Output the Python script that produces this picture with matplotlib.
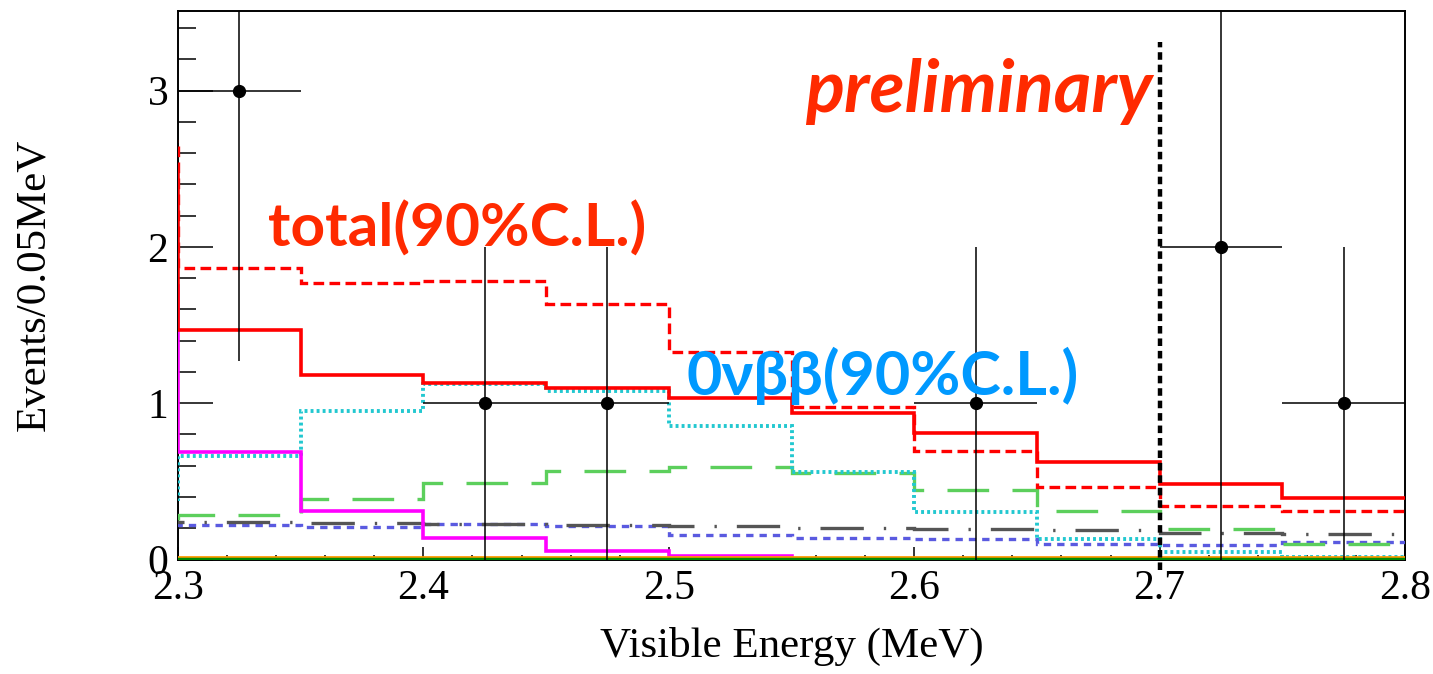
import numpy as np
import matplotlib
matplotlib.use("Agg")
import matplotlib.pyplot as plt
from matplotlib.ticker import MultipleLocator

# ---------------- data ----------------
bin_edges = [2.25, 2.30, 2.35, 2.40, 2.45, 2.50, 2.55, 2.60, 2.65, 2.70, 2.75, 2.80]

# value in the bin just below 2.3 (only its step at 2.3 is visible), then 10 bins
total_best   = [2.52, 1.47, 1.18, 1.128, 1.096, 1.032, 0.936, 0.808, 0.623, 0.480, 0.395]
total_90cl   = [2.68, 1.864, 1.768, 1.779, 1.636, 1.326, 0.974, 0.693, 0.463, 0.345, 0.313]
magenta_bkg  = [1.75, 0.685, 0.313, 0.136, 0.053, 0.021, 0.0, 0.0, 0.0, 0.0, 0.0]
signal_0vbb  = [0.39, 0.665, 0.953, 1.120, 1.081, 0.857, 0.559, 0.303, 0.132, 0.047, 0.015]
green_bkg    = [0.21, 0.286, 0.384, 0.488, 0.565, 0.595, 0.552, 0.446, 0.313, 0.196, 0.100]
gray_bkg     = [0.239, 0.239, 0.232, 0.228, 0.222, 0.213, 0.203, 0.194, 0.190, 0.171, 0.160]
blue_bkg     = [0.218, 0.218, 0.207, 0.228, 0.213, 0.159, 0.138, 0.132, 0.100, 0.090, 0.110]
orange_bkg   = [0.015] * 11
darkgreen_bkg = [0.0] * 11

data_x = [2.325, 2.425, 2.475, 2.625, 2.725, 2.775]
data_y = [3, 1, 1, 1, 2, 1]
err_low = [1.73, 1, 1, 1, 2, 1]
err_high = [1.73, 1, 1, 1, 2, 1]
x_half_width = 0.025

endpoint_energy = 2.7
endpoint_top = 3.31

xticks = [2.3, 2.4, 2.5, 2.6, 2.7, 2.8]
yticks = [0, 1, 2, 3]

# ---------------- figure ----------------
fig = plt.figure(figsize=(14.33, 6.74), dpi=100)
ax = fig.add_axes([178 / 1433, 1 - 559.5 / 674, (1405 - 178) / 1433, (559.5 - 11) / 674])

serif = "Liberation Serif"

def stairs(vals, color, lw, dashes=None, z=3):
    art = ax.stairs(vals, bin_edges, baseline=None, color=color, linewidth=lw, zorder=z)
    if dashes is not None:
        art.set_linestyle((0, dashes))
    return art

stairs(darkgreen_bkg, "#008a00", 3.2, z=6)
stairs(orange_bkg, "#ff9900", 2.0, z=5)
stairs(blue_bkg, "#5a5ae0", 2.4, dashes=(2.2, 1.8))
stairs(gray_bkg, "#555555", 2.4, dashes=(13, 6, 0.7, 6))
stairs(green_bkg, "#5ccf5c", 2.4, dashes=(12.5, 7))
stairs(signal_0vbb, "#22c8d0", 2.8, dashes=(0.75, 0.8))
stairs(magenta_bkg, "#ff00ff", 2.6)
stairs(total_90cl, "#ff0000", 2.4, dashes=(3.2, 1.6))
stairs(total_best, "#ff0000", 2.6)

ax.errorbar(data_x, data_y, yerr=[err_low, err_high], xerr=x_half_width,
            fmt="o", color="black", markersize=8.5, elinewidth=1.1,
            capsize=0, zorder=7)

ax.plot([endpoint_energy, endpoint_energy], [-0.07, endpoint_top], color="black",
        linewidth=3.2, linestyle=(0, (1.7, 1.1)), clip_on=False, zorder=8)

ax.set_xlim(2.3, 2.8)
ax.set_ylim(0, 3.51)

ax.xaxis.set_major_locator(MultipleLocator(0.1))
ax.xaxis.set_minor_locator(MultipleLocator(0.02))
ax.yaxis.set_major_locator(MultipleLocator(1))
ax.yaxis.set_minor_locator(MultipleLocator(0.2))
ax.set_xticks(xticks)
ax.set_yticks(yticks)
ax.set_xticklabels([f"{t:.1f}" for t in xticks], fontfamily=serif, fontsize=30)
ax.set_yticklabels([str(t) for t in yticks], fontfamily=serif, fontsize=30)

ax.tick_params(axis="x", which="major", direction="in", length=9.4, width=1.1, pad=7,
               top=False, bottom=True)
ax.tick_params(axis="x", which="minor", direction="in", length=3.3, width=1.1,
               top=False, bottom=True)
ax.tick_params(axis="y", which="major", direction="in", length=25, width=1.1, pad=7,
               right=False, left=True)
ax.tick_params(axis="y", which="minor", direction="in", length=13, width=1.1,
               right=False, left=True)

for s in ax.spines.values():
    s.set_linewidth(1.4)

ax.set_xlabel("Visible Energy (MeV)", fontfamily=serif, fontsize=31, labelpad=14)
ax.set_ylabel("Events/0.05MeV", fontfamily=serif, fontsize=31, labelpad=68)

ann = ["Lato", "Open Sans", "DejaVu Sans"]
fig.text(268 / 1433, 1 - 247 / 674, "total(90%C.L.)", color="#ff2a00",
         fontsize=43.5, fontweight="bold", family=ann, ha="left", va="baseline")
fig.text(687 / 1433, 1 - 395 / 674, "0νββ(90%C.L.)", color="#0099ff",
         fontsize=44, fontweight="bold", family=ann, ha="left", va="baseline")
fig.text(805 / 1433, 1 - 112 / 674, "preliminary", color="#ff2a00",
         fontsize=52, fontweight="bold", fontstyle="italic", family=ann,
         ha="left", va="baseline")

fig.savefig("out.png", dpi=100)
